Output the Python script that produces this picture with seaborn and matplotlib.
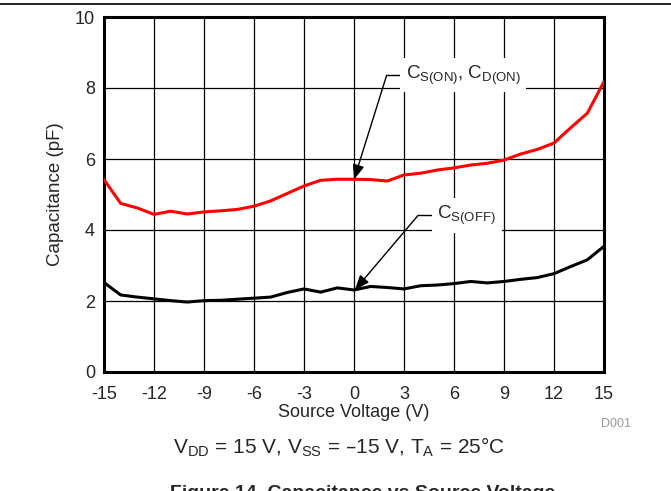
import matplotlib
matplotlib.use("Agg")
import matplotlib.pyplot as plt
from matplotlib.lines import Line2D
import seaborn as sns
import pandas as pd
import numpy as np

voltage = list(range(-15, 16))
c_on = [5.42, 4.75, 4.62, 4.44, 4.53, 4.45, 4.51, 4.54, 4.58, 4.67, 4.82, 5.03, 5.24,
        5.40, 5.43, 5.43, 5.42, 5.38, 5.55, 5.60, 5.69, 5.75, 5.83, 5.88, 5.97, 6.14,
        6.27, 6.45, 6.88, 7.29, 8.18]
c_off = [2.52, 2.17, 2.11, 2.06, 2.01, 1.97, 2.01, 2.02, 2.05, 2.08, 2.11, 2.24, 2.34,
         2.25, 2.37, 2.31, 2.41, 2.38, 2.34, 2.43, 2.45, 2.49, 2.55, 2.51, 2.55, 2.61,
         2.66, 2.77, 2.97, 3.16, 3.54]
x_ticks = [-15, -12, -9, -6, -3, 0, 3, 6, 9, 12, 15]
y_ticks = [0, 2, 4, 6, 8, 10]

sns.set_style("white")
plt.rcParams['font.family'] = ['Liberation Sans', 'DejaVu Sans']
plt.rcParams['mathtext.default'] = 'regular'
plt.rcParams['axes.unicode_minus'] = False

df = pd.DataFrame({"V": voltage * 2, "C": c_on + c_off,
                   "series": ["on"] * len(voltage) + ["off"] * len(voltage)})

fig = plt.figure(figsize=(6.71, 4.91), dpi=100)
ax = fig.add_axes([104/671, (491-372)/491, 500/671, 355/491])

sns.lineplot(data=df, x="V", y="C", hue="series", palette={"on": "#ff0000", "off": "black"},
             linewidth=2.2, legend=False, ax=ax, zorder=3)

ax.set_xlim(-15, 15)
ax.set_ylim(0, 10)
ax.set_xticks(x_ticks)
ax.set_yticks(y_ticks)
ax.set_xticklabels([str(t) for t in x_ticks], fontsize=13)
ax.set_yticklabels([str(t) for t in y_ticks], fontsize=13)
ax.tick_params(axis="x", length=0, pad=10)
ax.tick_params(axis="y", length=0, pad=6.5)
ax.grid(True, color="black", linewidth=0.9)
ax.set_axisbelow(True)
for s in ax.spines.values():
    s.set_linewidth(2.2)
    s.set_color("black")
ax.set_xlabel("Source Voltage (V)", fontsize=13, labelpad=1)
ax.set_ylabel("Capacitance (pF)", fontsize=13.5, labelpad=8)

# annotations
ax.annotate("", xy=(0, 5.42), xytext=(1.96, 8.36),
            arrowprops=dict(arrowstyle="-|>,head_length=0.9,head_width=0.35", color="black",
                            lw=1, shrinkA=0, shrinkB=0), zorder=5)
ax.plot([1.96, 2.95], [8.36, 8.36], color="black", lw=1, zorder=5)
ax.text(3.1, 8.36, r"C$_{S(ON)}$, C$_{D(ON)}$", fontsize=13.5, va="center", ha="left",
        zorder=6, bbox=dict(facecolor="white", edgecolor="none", pad=4))

ax.annotate("", xy=(0.05, 2.31), xytext=(3.84, 4.41),
            arrowprops=dict(arrowstyle="-|>,head_length=0.9,head_width=0.35", color="black",
                            lw=1, shrinkA=0, shrinkB=0), zorder=5)
ax.plot([3.84, 4.8], [4.41, 4.41], color="black", lw=1, zorder=5)
ax.text(5.0, 4.41, r"C$_{S(OFF)}$", fontsize=13.5, va="center", ha="left",
        zorder=6, bbox=dict(facecolor="white", edgecolor="none", pad=4))

fig.add_artist(Line2D([0, 1], [1 - 4/491, 1 - 4/491], color="black", lw=1.2))
fig.text(616/671, 1 - 424/491, "D001", color="#999999", fontsize=9, ha="center", va="center")
fig.text(339/671, 1 - 447/491, r"V$_{DD}$ = 15 V, V$_{SS}$ = –15 V, T$_{A}$ = 25°C",
         fontsize=15, ha="center", va="center")
fig.text(363/671, 1 - 494/491, "Figure 14. Capacitance vs Source Voltage",
         fontsize=14, fontweight="bold", ha="center", va="center")

fig.savefig("out.png", dpi=100)
